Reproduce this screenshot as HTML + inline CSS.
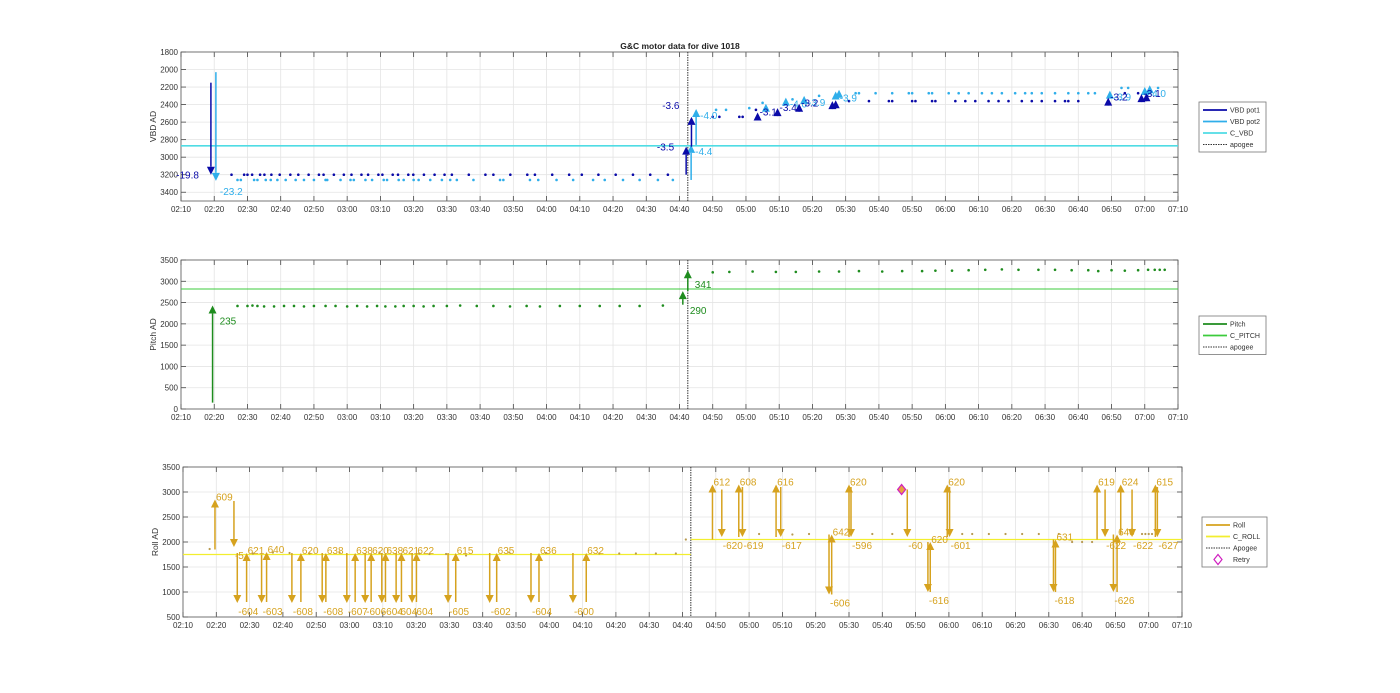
<!DOCTYPE html>
<html><head><meta charset="utf-8"><style>
html,body{margin:0;padding:0;background:#fff;}
svg{display:block;font-family:"Liberation Sans",sans-serif;}
</style></head><body>
<svg id="fig" width="1400" height="693" viewBox="0 0 1400 693" xmlns="http://www.w3.org/2000/svg">
<text x="680" y="49" font-size="8.5" font-weight="bold" text-anchor="middle" fill="#222">G&amp;C motor data for dive 1018</text>
</svg>
<script>
// ---- data (time in minutes after midnight) ----
const xTickMinutes = [130,140,150,160,170,180,190,200,210,220,230,240,250,260,270,280,290,300,310,320,330,340,350,360,370,380,390,400,410,420,430];
const apogeeTime = 282.5;
const vbdTicks = [1800,2000,2200,2400,2600,2800,3000,3200,3400];
const pitchTicks = [0,500,1000,1500,2000,2500,3000,3500];
const rollTicks = [500,1000,1500,2000,2500,3000,3500];
const cVbd = 2870, cPitch = 2820;
const cRollBefore = 1750, cRollAfter = 2050;
const vbd1DotT = [145.2,149,150,151.4,153.8,155.1,157.2,159.7,162.9,165.3,168.4,171.5,172.9,176,179,181.3,184.3,186.3,189.4,190.6,193.7,195.3,198.4,199.9,203.1,206.3,209.3,211.5,216.6,221.6,224,229.1,234.2,236.5,241.7,246.8,250.6,255.6,260.8,266,271.2,276.5,290,292,298,299,303,331,337,343,344,350,351,356,357,363,366,369,373,376,379,383,386,389,393,396,397,400,414,418,421];
const vbd1DotV = [3200,3200,3200,3200,3200,3200,3200,3200,3200,3200,3200,3200,3200,3200,3200,3200,3200,3200,3200,3200,3200,3200,3200,3200,3200,3200,3200,3200,3200,3200,3200,3200,3200,3200,3200,3200,3200,3200,3200,3200,3200,3200,2540,2540,2540,2540,2460,2360,2360,2360,2360,2360,2360,2360,2360,2360,2360,2360,2360,2360,2360,2360,2360,2360,2360,2360,2360,2360,2270,2270,2270];
const vbd2DotT = [147,148,152,153,155.5,157,159,161.5,164.5,167,170,173.5,174,178,181,182,185.5,187.5,191,192,195.5,197,200,201.5,205,208.5,211,213,218,226,227,235,237.5,243,248,254,257.5,263,268,273.5,278,291,294,301,305,314,322,333,334,339,344,349,350,355,356,361,364,367,371,374,377,381,384,386,389,393,397,400,403,405,413,415,424];
const vbd2DotV = [3260,3260,3260,3260,3260,3260,3260,3260,3260,3260,3260,3260,3260,3260,3260,3260,3260,3260,3260,3260,3260,3260,3260,3260,3260,3260,3260,3260,3260,3260,3260,3260,3260,3260,3260,3260,3260,3260,3260,3260,3260,2460,2460,2440,2380,2340,2300,2270,2270,2270,2270,2270,2270,2270,2270,2270,2270,2270,2270,2270,2270,2270,2270,2270,2270,2270,2270,2270,2270,2270,2210,2210,2210];
const vbd1ArrT = [139,282,283.6,303.5,309.5,316,326,327,409,419,420.5];
const vbd1ArrFrom = [2150,3200,2880,2530,2490,2430,2390,2380,2360,2310,2300];
const vbd1ArrTo = [3200,2880,2540,2490,2440,2390,2360,2350,2320,2280,2270];
const vbd1ArrLabel = ['-19.8','-3.5','-3.6','-3.1','-3.4','-3.2','','','-3.2','-3.1',''];
const vbd2ArrT = [140.5,283.5,285,306,312,317.5,327,328,409.5,420,421.5];
const vbd2ArrFrom = [2030,3260,2860,2440,2360,2330,2290,2270,2290,2240,2210];
const vbd2ArrTo = [3270,2860,2450,2390,2320,2300,2250,2230,2240,2200,2180];
const vbd2ArrLabel = ['-23.2','-4.4','-4.0','','-4.0','-3.9','-3.9','','-3.9','-4.0',''];
const pitchDotT = [147,150,151.5,153,155,158,161,164,167,170,173.5,176.5,180,183,186,189,191.5,194.5,197,200,203,206,210,214,219,224,229,234,238,244,250,256,262,268,275,290,295,302,309,315,322,328,334,341,347,353,357,362,367,372,377,382,388,393,398,403,406,410,414,418,421,423,424.5,426];
const pitchDotV = [2420,2420,2430,2420,2410,2410,2420,2420,2410,2420,2420,2420,2410,2420,2410,2420,2410,2410,2420,2420,2410,2420,2420,2430,2420,2420,2410,2420,2410,2420,2420,2420,2420,2420,2430,3210,3220,3230,3220,3220,3230,3230,3240,3230,3240,3240,3250,3250,3260,3270,3280,3270,3270,3270,3260,3260,3240,3260,3250,3260,3270,3270,3270,3270];
const pitchArrT = [139.5,281,282.5];
const pitchArrFrom = [150,2450,2770];
const pitchArrTo = [2430,2770,3260];
const pitchArrLabel = ['235','290','341'];
const rollDotT = [138,151,157,162,168,177,189,201,204,209,215,228,239,255,261,266,272,278,281,303,313,318,337,343,364,367,372,377,382,387,393,397,400,403,418,419,420,421];
const rollDotV = [1860,1770,1790,1780,1770,1790,1790,1770,1760,1760,1730,1790,1780,1770,1770,1770,1770,1770,2050,2160,2150,2160,2160,2160,2160,2160,2160,2160,2160,2160,2160,2000,2000,2000,2160,2160,2160,2160];
const rollArrT = [139.6,145.3,146.3,149.1,153.6,155.1,162.7,165.4,171.8,172.9,179.2,181.7,184.7,186.5,189.7,190.8,194,195.6,198.8,200.1,209.6,211.9,222.1,224.2,234.5,236.9,247.1,251.1,289,291.8,296.9,298,308.1,309.5,324,324.8,330,330.6,347.5,353.7,354.4,359.5,360.2,391.4,392,404.5,406.9,409.4,410.5,411.6,415,422,422.6];
const rollArrFrom = [1850,2820,1780,800,1750,800,1780,800,1780,800,1780,800,1780,800,1780,800,1780,800,1780,800,1780,800,1780,800,1780,800,1780,800,2050,3050,2100,3100,2100,3100,2150,950,2100,3100,3050,2000,1000,2100,3100,2050,1000,2050,3050,2150,1000,2150,3050,2100,3100];
const rollArrTo = [2850,1900,780,1780,780,1800,780,1780,780,1780,780,1780,780,1780,780,1780,780,1780,780,1780,780,1780,780,1780,780,1780,780,1780,3150,2100,3150,2100,3150,2100,950,2150,3150,2100,2100,1000,2000,3150,2100,1000,2050,3150,2100,1000,2150,3150,2100,3150,2100];
const rollArrLabel = ['609','-5..','-604','621','-603','640','-608','620','-608','638','-607','638','-606','620','-604','638','-604','621','-604','622','-605','615','-602','635','-604','636','-600','632','612','-620','608','-619','616','-617','-606','642','620','-596','-60','-616','620','620','-601','-618','631','619','-622','-626','640','624','-622','615','-627'];
const retryT = [345.8];
const retryV = [3050];

// ---- drawing ----
const NS = 'http://www.w3.org/2000/svg';
const svg = document.getElementById('fig');
function mk(tag, attrs, parent){const e=document.createElementNS(NS,tag);for(const k in attrs)e.setAttribute(k,attrs[k]);(parent||svg).appendChild(e);return e;}
function tLabel(m){const h=Math.floor(m/60),mm=m%60;return String(h).padStart(2,'0')+':'+String(mm).padStart(2,'0');}

function makePanel(p){
  const g=mk('g',{});
  
  
  const sx=t=>p.x0+(t-130)/300*(p.x1-p.x0);
  const sy=v=>p.rev? p.y0+(v-p.vmin)/(p.vmax-p.vmin)*(p.y1-p.y0) : p.y1-(v-p.vmin)/(p.vmax-p.vmin)*(p.y1-p.y0);
  mk('rect',{x:p.x0,y:p.y0,width:p.x1-p.x0,height:p.y1-p.y0,fill:'#fff'},g);
  xTickMinutes.forEach(m=>{
    const x=sx(m);
    mk('line',{x1:x,x2:x,y1:p.y0,y2:p.y1,stroke:'#e4e4e4','stroke-width':0.8},g);
    mk('line',{x1:x,x2:x,y1:p.y1,y2:p.y1-5,stroke:'#444','stroke-width':0.8},g);
    mk('line',{x1:x,x2:x,y1:p.y0,y2:p.y0+5,stroke:'#444','stroke-width':0.8},g);
    const t=mk('text',{x:x,y:p.y1+11,'font-size':8,'text-anchor':'middle',fill:'#333'},g);
    t.textContent=tLabel(m);
    
    
  });
  p.ticks.forEach(v=>{
    const y=sy(v);
    mk('line',{x1:p.x0,x2:p.x1,y1:y,y2:y,stroke:'#e4e4e4','stroke-width':0.8},g);
    mk('line',{x1:p.x0,x2:p.x0+5,y1:y,y2:y,stroke:'#444','stroke-width':0.8},g);
    mk('line',{x1:p.x1,x2:p.x1-5,y1:y,y2:y,stroke:'#444','stroke-width':0.8},g);
    const t=mk('text',{x:p.x0-3,y:y+3,'font-size':8,'text-anchor':'end',fill:'#333'},g);
    t.textContent=v;
    
    
  });
  mk('rect',{x:p.x0,y:p.y0,width:p.x1-p.x0,height:p.y1-p.y0,fill:'none',stroke:'#555','stroke-width':0.8},g);
  const yt=mk('text',{x:0,y:0,'font-size':8.5,'text-anchor':'middle',fill:'#333',transform:`translate(${p.x0-25},${(p.y0+p.y1)/2}) rotate(-90)`},g);
  yt.textContent=p.ytitle;
  
  
  const ax=sx(apogeeTime);
  const ap=mk('line',{x1:ax,x2:ax,y1:p.y0,y2:p.y1,stroke:'#333','stroke-width':1,'stroke-dasharray':'1.5,1'},g);
  
  
  return {g,sx,sy};
}
function arrow(g,x,y1,y2,color,w,name){
  const dir=y2<y1?-1:1;
  const hl=8, hw=4;
  const ln=mk('line',{x1:x,x2:x,y1:y1,y2:y2-dir*hl,stroke:color,'stroke-width':w},g);
  
  
  const hd=mk('polygon',{points:`${x-hw},${y2-dir*hl} ${x+hw},${y2-dir*hl} ${x},${y2}`,fill:color},g);
  
  
}
function dots(g,sx,sy,T,V,color,r,name){
  T.forEach((t,i)=>{
    const c=mk('circle',{cx:sx(t),cy:sy(V[i]),r:r,fill:color},g);
    
    
  });
}
function label(g,x,y,txt,color,anchor,name){
  const t=mk('text',{x:x,y:y,'font-size':10,fill:color,'text-anchor':anchor||'start'},g);
  t.textContent=txt;
  
  
}
function legend(x,y,w,items,name){
  const g=mk('g',{});
  
  
  const h=items.length*11.5+4;
  mk('rect',{x:x,y:y,width:w,height:h,fill:'#fff',stroke:'#777','stroke-width':0.8},g);
  items.forEach((it,i)=>{
    const yy=y+8+i*11.5;
    if(it.marker){
      mk('polygon',{points:`${x+16},${yy-5} ${x+20},${yy} ${x+16},${yy+5} ${x+12},${yy}`,fill:'none',stroke:it.color,'stroke-width':1.2},g);
    } else {
      mk('line',{x1:x+4,x2:x+28,y1:yy,y2:yy,stroke:it.color,'stroke-width':it.dash?1:1.8,'stroke-dasharray':it.dash?'1.5,1':'none'},g);
    }
    const t=mk('text',{x:x+31,y:yy+2.5,'font-size':7,fill:'#333'},g);
    t.textContent=it.text;
    
    
  });
}

const DB='#0A0AA8', LB='#2FAEEA', CV='#4FDCE4', GR='#1E8C1E', CP='#3CCB3C', GD='#D6A21E', CR='#F2EE2E';

// Panel 1: VBD
const p1=makePanel({name:'vbd-panel',x0:181,x1:1178,y0:52,y1:201,vmin:1800,vmax:3500,rev:true,ticks:vbdTicks,ytitle:'VBD AD'});
mk('line',{x1:181,x2:1178,y1:p1.sy(cVbd),y2:p1.sy(cVbd),stroke:CV,'stroke-width':1.6},p1.g);
dots(p1.g,p1.sx,p1.sy,vbd2DotT,vbd2DotV,LB,1.3,'vbd-pot2-point');
dots(p1.g,p1.sx,p1.sy,vbd1DotT,vbd1DotV,DB,1.3,'vbd-pot1-point');
vbd2ArrT.forEach((t,i)=>{
  const x=p1.sx(t),a=p1.sy(vbd2ArrFrom[i]),b=p1.sy(vbd2ArrTo[i]);
  arrow(p1.g,x,a,b,LB,1.5,'vbd-pot2-arrow');
  if(vbd2ArrLabel[i]) label(p1.g,x+4,b+(b>a?14:10),vbd2ArrLabel[i],LB,'start','vbd-pot2-label');
});
vbd1ArrT.forEach((t,i)=>{
  const x=p1.sx(t),a=p1.sy(vbd1ArrFrom[i]),b=p1.sy(vbd1ArrTo[i]);
  arrow(p1.g,x,a,b,DB,1.5,'vbd-pot1-arrow');
  if(vbd1ArrLabel[i]){
    if(i<3) label(p1.g,x-12,b+(i==0?4:(i==1?4:-8)),vbd1ArrLabel[i],DB,'end','vbd-pot1-label');
    else label(p1.g,x+2,b+3,vbd1ArrLabel[i],DB,'start','vbd-pot1-label');
  }
});
legend(1199,102,67,[{text:'VBD pot1',color:DB},{text:'VBD pot2',color:LB},{text:'C_VBD',color:CV},{text:'apogee',color:'#333',dash:true}],'vbd-legend');

// Panel 2: Pitch
const p2=makePanel({name:'pitch-panel',x0:181,x1:1178,y0:260,y1:409,vmin:0,vmax:3500,rev:false,ticks:pitchTicks,ytitle:'Pitch AD'});
mk('line',{x1:181,x2:1178,y1:p2.sy(cPitch),y2:p2.sy(cPitch),stroke:CP,'stroke-width':1},p2.g);
dots(p2.g,p2.sx,p2.sy,pitchDotT,pitchDotV,GR,1.3,'pitch-point');
pitchArrT.forEach((t,i)=>{
  const x=p2.sx(t),a=p2.sy(pitchArrFrom[i]),b=p2.sy(pitchArrTo[i]);
  arrow(p2.g,x,a,b,GR,1.5,'pitch-arrow');
  label(p2.g,x+7,i==0?b+19:(i==1?b+23:b+18),pitchArrLabel[i],GR,'start','pitch-label');
});
legend(1199,316,67,[{text:'Pitch',color:GR},{text:'C_PITCH',color:CP},{text:'apogee',color:'#333',dash:true}],'pitch-legend');

// Panel 3: Roll
const p3=makePanel({name:'roll-panel',x0:183,x1:1182,y0:467,y1:617,vmin:500,vmax:3500,rev:false,ticks:rollTicks,ytitle:'Roll AD'});
const axR=p3.sx(apogeeTime);
mk('line',{x1:183,x2:axR,y1:p3.sy(cRollBefore),y2:p3.sy(cRollBefore),stroke:CR,'stroke-width':1.2},p3.g);
mk('line',{x1:axR,x2:1182,y1:p3.sy(cRollAfter),y2:p3.sy(cRollAfter),stroke:CR,'stroke-width':1.2},p3.g);
dots(p3.g,p3.sx,p3.sy,rollDotT,rollDotV,'#B89A50',1.1,'roll-point');
rollArrT.forEach((t,i)=>{
  const x=p3.sx(t),a=p3.sy(rollArrFrom[i]),b=p3.sy(rollArrTo[i]);
  arrow(p3.g,x,a,b,GD,1.5,'roll-arrow');
  label(p3.g,x+1,b>a?b+12:b+1,rollArrLabel[i],GD,'start','roll-label');
});
retryT.forEach((t,i)=>{
  const x=p3.sx(t),y=p3.sy(retryV[i]);
  const d=mk('polygon',{points:`${x},${y-5} ${x+4},${y} ${x},${y+5} ${x-4},${y}`,fill:'#E8A040',stroke:'#D020C0','stroke-width':1.2},p3.g);
  
  
});
legend(1202,517,65,[{text:'Roll',color:GD},{text:'C_ROLL',color:CR},{text:'Apogee',color:'#333',dash:true},{text:'Retry',color:'#D020C0',marker:true}],'roll-legend');
</script>
</body></html>
